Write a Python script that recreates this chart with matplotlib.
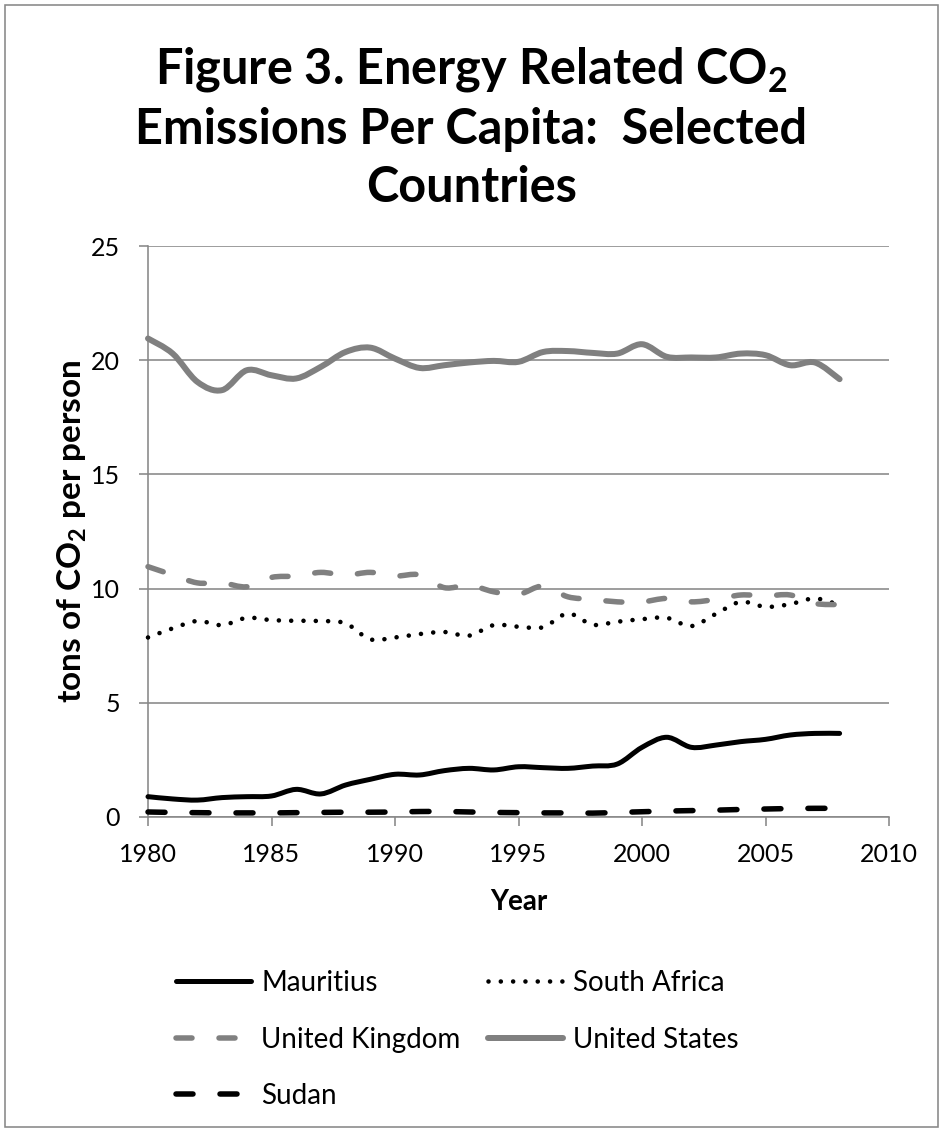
import matplotlib
matplotlib.use("Agg")
import matplotlib.pyplot as plt
from matplotlib.path import Path
from matplotlib.patches import PathPatch, Rectangle
from matplotlib.lines import Line2D

plt.rcParams['font.family'] = ['Lato', 'DejaVu Sans']
plt.rcParams['mathtext.fontset'] = 'custom'
plt.rcParams['mathtext.rm'] = 'Lato'
plt.rcParams['mathtext.bf'] = 'Lato:bold'
plt.rcParams['lines.scale_dashes'] = False

# ---- data: energy related CO2 emissions, tons per person ----
years = list(range(1980, 2009))
mauritius = [0.89, 0.79, 0.74, 0.85, 0.89, 0.92, 1.21, 1.01, 1.40, 1.65,
             1.87, 1.84, 2.03, 2.13, 2.06, 2.20, 2.16, 2.13, 2.23, 2.32,
             3.05, 3.49, 3.05, 3.15, 3.30, 3.40, 3.59, 3.66, 3.66]
south_africa = [7.86, 8.26, 8.58, 8.40, 8.72, 8.62, 8.59, 8.58, 8.48, 7.78,
                7.86, 8.01, 8.10, 7.94, 8.40, 8.33, 8.31, 8.91, 8.42, 8.55,
                8.66, 8.72, 8.36, 8.90, 9.42, 9.20, 9.32, 9.57, 9.28]
united_kingdom = [10.96, 10.60, 10.25, 10.25, 10.08, 10.49, 10.55, 10.71, 10.59, 10.71,
                  10.55, 10.60, 10.04, 10.15, 9.86, 9.75, 10.11, 9.64, 9.53, 9.42,
                  9.42, 9.57, 9.42, 9.53, 9.72, 9.68, 9.72, 9.35, 9.30]
united_states = [20.95, 20.29, 19.05, 18.69, 19.56, 19.34, 19.20, 19.71, 20.36, 20.55,
                 20.07, 19.66, 19.78, 19.90, 19.97, 19.93, 20.36, 20.40, 20.32, 20.29,
                 20.70, 20.15, 20.12, 20.12, 20.29, 20.22, 19.78, 19.90, 19.17]
sudan = [0.22, 0.20, 0.19, 0.18, 0.18, 0.18, 0.19, 0.20, 0.21, 0.21,
         0.22, 0.24, 0.24, 0.22, 0.20, 0.19, 0.18, 0.18, 0.17, 0.20,
         0.23, 0.26, 0.28, 0.30, 0.33, 0.35, 0.37, 0.38, 0.38]

series_names = ["Mauritius", "South Africa", "United Kingdom", "United States", "Sudan"]
x_ticks = [1980, 1985, 1990, 1995, 2000, 2005, 2010]
y_ticks = [0, 5, 10, 15, 20, 25]

GRAY = '#808080'
AXGRAY = '#888888'
px = 0.72  # points per pixel at 100 dpi


def smooth_path(xs, ys):
    """Catmull-Rom spline through the points, as cubic Bezier segments."""
    pts = list(zip(xs, ys))
    n = len(pts)
    verts = [pts[0]]
    codes = [Path.MOVETO]
    for i in range(n - 1):
        p0 = pts[i - 1] if i > 0 else pts[i]
        p1 = pts[i]
        p2 = pts[i + 1]
        p3 = pts[i + 2] if i + 2 < n else pts[i + 1]
        c1 = (p1[0] + (p2[0] - p0[0]) / 6.0, p1[1] + (p2[1] - p0[1]) / 6.0)
        c2 = (p2[0] - (p3[0] - p1[0]) / 6.0, p2[1] - (p3[1] - p1[1]) / 6.0)
        verts += [c1, c2, p2]
        codes += [Path.CURVE4] * 3
    return Path(verts, codes)


styles = {
    "Mauritius": dict(color='black', lw=5 * px, ls='-'),
    "South Africa": dict(color='black', lw=4.6 * px, ls=(0, (0.01, 12.3 * px))),
    "United Kingdom": dict(color=GRAY, lw=5.5 * px, ls=(0, (16 * px, 27 * px))),
    "United States": dict(color=GRAY, lw=6 * px, ls='-'),
    "Sudan": dict(color='black', lw=5.5 * px, ls=(0, (17 * px, 27 * px))),
}
values = {
    "Mauritius": mauritius,
    "South Africa": south_africa,
    "United Kingdom": united_kingdom,
    "United States": united_states,
    "Sudan": sudan,
}

W, H = 943, 1132
fig = plt.figure(figsize=(W / 100, H / 100), dpi=100)
fig.patch.set_facecolor('white')

# chart border
fig.add_artist(Rectangle((5 / W, 5 / H), 933 / W, 1122 / H, transform=fig.transFigure,
                         fill=False, edgecolor=AXGRAY, lw=1.6 * px))

ax = fig.add_axes([148 / W, 1 - 817 / H, (889 - 148) / W, (817 - 246) / H])
ax.set_xlim(1980, 2010)
ax.set_ylim(0, 25)
ax.set_xticks(x_ticks)
ax.set_yticks(y_ticks)
ax.set_xticklabels([str(t) for t in x_ticks])
ax.set_yticklabels([str(t) for t in y_ticks])
ax.yaxis.grid(True, color=AXGRAY, lw=1.6 * px)
ax.set_axisbelow(True)
for s in ['top', 'right']:
    ax.spines[s].set_visible(False)
for s in ['left', 'bottom']:
    ax.spines[s].set_color(AXGRAY)
    ax.spines[s].set_linewidth(1.6 * px)
ax.tick_params(axis='both', colors=AXGRAY, width=1.6 * px, length=9 * px,
               labelcolor='black', labelsize=18, direction='out')
ax.tick_params(axis='x', pad=17 * px)
ax.tick_params(axis='y', pad=19 * px)

for name in series_names:
    st = styles[name]
    patch = PathPatch(smooth_path(years, values[name]), facecolor='none',
                      edgecolor=st['color'], lw=st['lw'], linestyle=st['ls'],
                      capstyle='round', joinstyle='round', clip_on=False, zorder=3)
    ax.add_patch(patch)

ax.set_xlabel('Year', fontsize=20, fontweight='bold')
ax.xaxis.set_label_coords(0.5, -(902 - 817) / (817 - 246), transform=ax.transAxes)
ax.xaxis.label.set_va('center')
ax.set_ylabel(r'tons of CO$_\mathbf{2}$ per person', fontsize=24, fontweight='bold')
ax.yaxis.set_label_coords(-(148 - 72) / (889 - 148), 0.5, transform=ax.transAxes)
ax.yaxis.label.set_va('center')

# title
title_lines = [r'Figure 3. Energy Related CO$_\mathbf{2}$',
               'Emissions Per Capita:  Selected',
               'Countries']
for line, yc in zip(title_lines, [70, 130, 187]):
    fig.text(0.5, 1 - yc / H, line, ha='center', va='center', fontsize=35,
             fontweight='bold')

# legend, filled row by row: two entries per row
order = ["Mauritius", "United Kingdom", "Sudan", "South Africa", "United States"]
handles = []
for name in order:
    st = styles[name]
    handles.append(Line2D([], [], color=st['color'], lw=st['lw'], linestyle=st['ls'],
                          dash_capstyle='round', solid_capstyle='round'))
fig.legend(handles, order, loc='upper left', bbox_to_anchor=(176 / W, 1 - 970 / H),
           ncol=2, frameon=False, fontsize=20, handlelength=2.7, handletextpad=0.36,
           columnspacing=1.0, labelspacing=1.1, borderpad=0, borderaxespad=0)

fig.savefig('out.png', dpi=100, facecolor='white')
